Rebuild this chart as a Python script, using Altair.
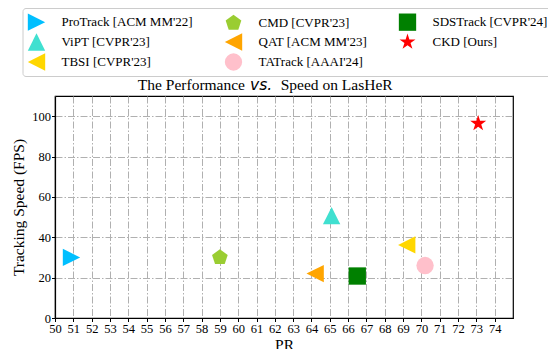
import math

import altair as alt
import pandas as pd

# Trackers on LasHeR: precision rate (PR) and tracking speed (FPS)
trackers = [
    "ProTrack [ACM MM'22]",
    "ViPT [CVPR'23]",
    "TBSI [CVPR'23]",
    "CMD [CVPR'23]",
    "QAT [ACM MM'23]",
    "TATrack [AAAI'24]",
    "SDSTrack [CVPR'24]",
    "CKD [Ours]",
]
pr = [50.9, 65.1, 69.2, 59.0, 64.2, 70.2, 66.5, 73.1]
fps = [30.0, 50.7, 36.2, 30.0, 22.0, 26.0, 20.8, 96.4]
colors = ["#00bfff", "#40e0d0", "#ffd700", "#9acd32", "#ffa500", "#ffc0cb", "#008000", "#ff0000"]

x_ticks = list(range(50, 75))
y_ticks = [0, 20, 40, 60, 80, 100]


def closed_path(points):
    return "M" + "L".join(f"{px:.3f},{py:.3f}" for px, py in points) + "Z"


def pentagon(r):
    return closed_path([
        (r * math.cos(math.radians(-90 + 72 * i)), r * math.sin(math.radians(-90 + 72 * i)))
        for i in range(5)
    ])


def star(r_out, r_in):
    pts = []
    for i in range(10):
        r = r_out if i % 2 == 0 else r_in
        a = math.radians(-90 + 36 * i)
        pts.append((r * math.cos(a), r * math.sin(a)))
    return closed_path(pts)


TRI_RIGHT = "M1,0L-1,-1L-1,1Z"
TRI_UP = "M0,-1L-1,1L1,1Z"
TRI_LEFT = "M-1,0L1,-1L1,1Z"
shapes = [TRI_RIGHT, TRI_UP, TRI_LEFT, pentagon(0.95), TRI_LEFT, "circle", "square", star(0.97, 0.37)]

df = pd.DataFrame({"Tracker": trackers, "PR": pr, "FPS": fps})

SERIF = "Liberation Serif"

# three columns, filled column by column
legend = alt.Legend(
    title=None,
    orient="none",
    legendX=-32.5,
    legendY=-88,
    columns=3,
    columnPadding=31,
    rowPadding=2,
    padding=5,
    symbolSize=300,
    symbolStrokeWidth=0,
    symbolOpacity=1,
    labelFont=SERIF,
    labelFontSize=13,
    labelColor="black",
    labelOffset=16,
    labelLimit=0,
    strokeColor="#cccccc",
    fillColor="white",
    cornerRadius=3,
)

points = alt.Chart(df).mark_point(filled=True, opacity=1, size=300, strokeWidth=0).encode(
    x=alt.X(
        "PR:Q",
        scale=alt.Scale(domain=[50, 75], nice=False, zero=False),
        axis=alt.Axis(
            values=x_ticks,
            title="PR",
            titleX=229,
            titleY=31,
            titleBaseline="alphabetic",
            labelFlush=False,
            labelOverlap=False,
        ),
    ),
    y=alt.Y(
        "FPS:Q",
        scale=alt.Scale(domain=[0, 110], nice=False),
        axis=alt.Axis(
            values=y_ticks,
            title="Tracking Speed (FPS)",
            titleX=-37,
            titleY=111,
            titleAlign="center",
            titleBaseline="middle",
        ),
    ),
    color=alt.Color("Tracker:N", scale=alt.Scale(domain=trackers, range=colors), legend=legend),
    shape=alt.Shape("Tracker:N", scale=alt.Scale(domain=trackers, range=shapes), legend=legend),
)

# Title assembled from pieces so that "vs." can be set in an italic sans face
title_font = dict(baseline="alphabetic", fontSize=15.5, color="black")
title_left = alt.Chart(pd.DataFrame({"t": ["The Performance"]})).mark_text(
    align="right", font=SERIF, **title_font
).encode(text="t:N", x=alt.value(190), y=alt.value(-6))
title_vs = alt.Chart(pd.DataFrame({"t": ["vs."]})).mark_text(
    align="left", font="DejaVu Sans", fontStyle="italic", **title_font
).encode(text="t:N", x=alt.value(195), y=alt.value(-6))
title_right = alt.Chart(pd.DataFrame({"t": ["Speed on LasHeR"]})).mark_text(
    align="left", font=SERIF, **title_font
).encode(text="t:N", x=alt.value(225.7), y=alt.value(-6))

chart = (
    alt.layer(points, title_left, title_vs, title_right)
    .properties(
        width=458,
        height=222,
        autosize=alt.AutoSizeParams(type="none"),
        padding={"left": 55, "top": 96, "right": 35, "bottom": 31},
        background="white",
    )
    .configure_view(stroke="black", strokeWidth=1.2)
    .configure_axis(
        domainColor="black",
        domainWidth=1.2,
        tickColor="black",
        tickSize=3.5,
        tickWidth=1,
        labelFont=SERIF,
        labelFontSize=12.5,
        labelColor="black",
        labelPadding=1,
        titleFont=SERIF,
        titleFontSize=15.5,
        titleFontWeight="normal",
        titleColor="black",
        grid=True,
        gridColor="#b0b0b0",
        gridWidth=1,
        gridDash=[7, 2, 1.5, 2],
    )
)

chart.save("out.html", embed_options={"renderer": "svg", "actions": False})
